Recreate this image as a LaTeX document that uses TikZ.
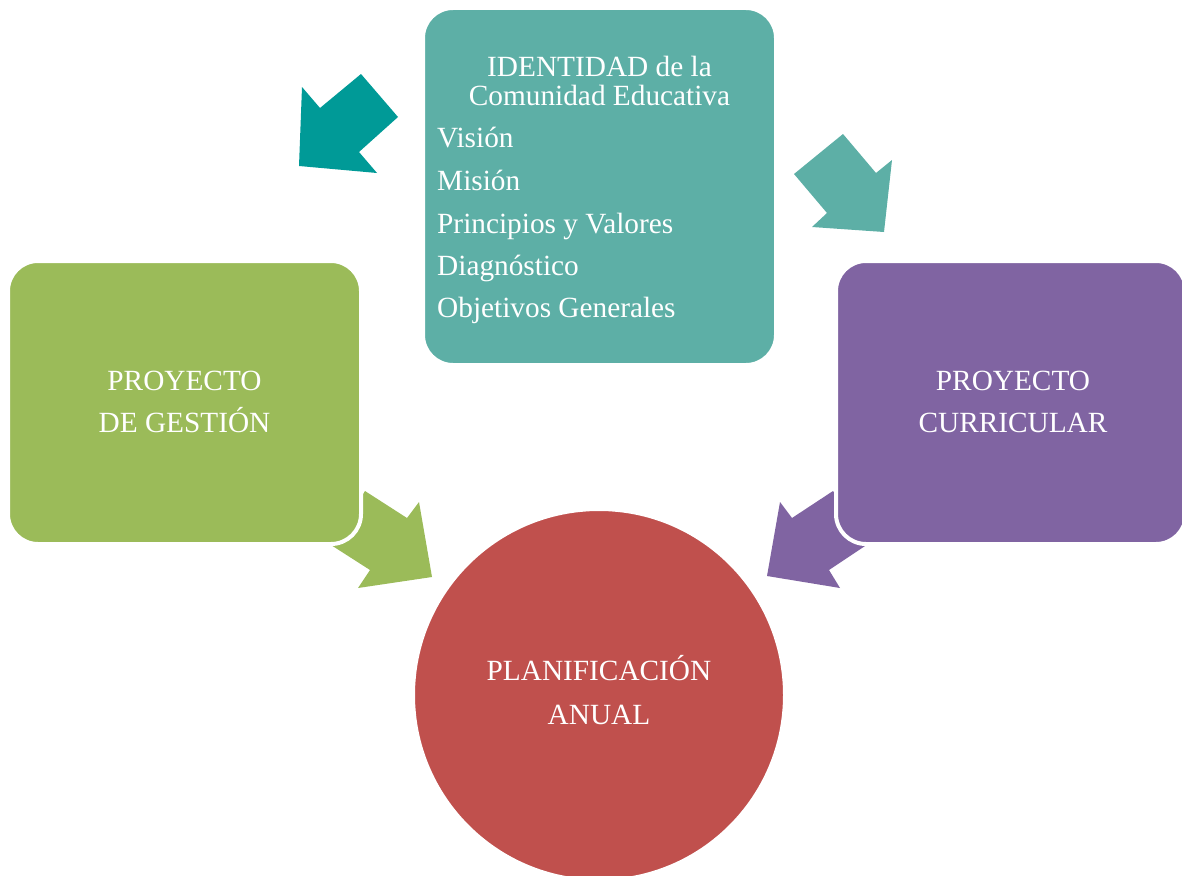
\documentclass[tikz,border=0pt]{standalone}
\usepackage{fontspec}
\setmainfont{Liberation Serif}
\definecolor{tealbox}{HTML}{5DAFA6}
\definecolor{darkteal}{HTML}{009A97}
\definecolor{gestgreen}{HTML}{9BBB59}
\definecolor{currpurple}{HTML}{8064A2}
\definecolor{planred}{HTML}{C0504D}
\begin{document}
\begin{tikzpicture}[x=1pt,y=-1pt,
  roundbox/.style={rectangle, rounded corners=30pt, draw=white, line width=4pt, inner sep=0pt},
  bigtxt/.style={text=white, inner sep=0pt, font=\fontsize{29.3}{29.3}\selectfont}]
\useasboundingbox (0,0) rectangle (1182,875);
\clip (0,0) rectangle (1182,875);
% arrows
\fill[darkteal] (302,87) -- (320,108) -- (361,74) -- (398,117) -- (359,152) -- (377,173) -- (299,166) -- cycle;
\fill[tealbox] (794,174) -- (843,134) -- (876,173) -- (892,160) -- (884,232) -- (812,227) -- (827,213) -- cycle;
\fill[gestgreen] (331,545) -- (365,491) -- (407,518) -- (419,502) -- (432,577) -- (358,588) -- (370,570) -- cycle;
\fill[currpurple] (868,544) -- (833,491) -- (792,518) -- (780,502) -- (767,576) -- (840,588) -- (829,570) -- cycle;
% boxes
\node[roundbox, fill=tealbox, minimum width=353pt, minimum height=357pt] (ident) at (599.5,186.5) {};
\node[roundbox, fill=gestgreen, minimum width=353pt, minimum height=283pt] (gest) at (184.5,402.5) {};
\node[roundbox, fill=currpurple, minimum width=350pt, minimum height=283pt] (curr) at (1011,402.5) {};
\node[circle, fill=planred, draw=white, line width=3pt, minimum size=371pt, inner sep=0pt] (plan) at (599,695) {};
% texts
\node[bigtxt, anchor=base] (t1) at (599.5,76) {IDENTIDAD de la};
\node[bigtxt, anchor=base] (t2) at (599.5,105) {Comunidad Educativa};
\node[bigtxt, anchor=base west] (l1) at (437,147) {Visión};
\node[bigtxt, anchor=base west] (l2) at (437,190) {Misión};
\node[bigtxt, anchor=base west] (l3) at (437,233) {Principios y Valores};
\node[bigtxt, anchor=base west] (l4) at (437,275) {Diagnóstico};
\node[bigtxt, anchor=base west] (l5) at (437,317) {Objetivos Generales};
\node[bigtxt, anchor=base] (g1) at (184.5,390) {PROYECTO};
\node[bigtxt, anchor=base] (g2) at (184.5,432) {DE GESTIÓN};
\node[bigtxt, anchor=base] (c1) at (1013,390) {PROYECTO};
\node[bigtxt, anchor=base] (c2) at (1013,432) {CURRICULAR};
\node[bigtxt, anchor=base] (p1) at (599,680) {PLANIFICACIÓN};
\node[bigtxt, anchor=base] (p2) at (599,724) {ANUAL};
\end{tikzpicture}
\end{document}
